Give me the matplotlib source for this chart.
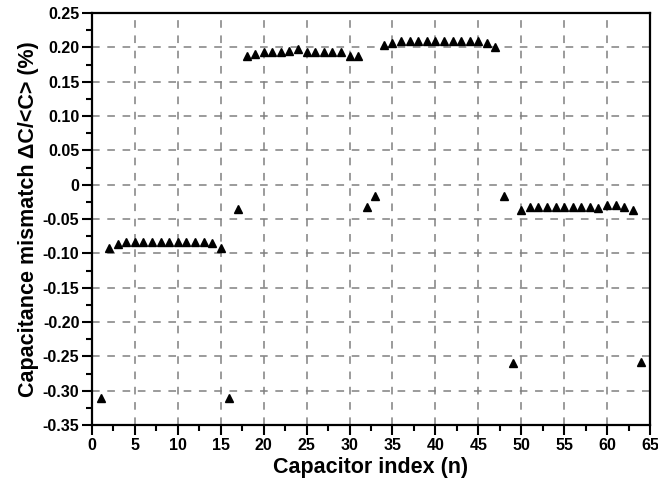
import matplotlib
matplotlib.use('Agg')
import matplotlib.pyplot as plt
from matplotlib.ticker import MultipleLocator

plt.rcParams['font.family'] = ['Liberation Sans', 'DejaVu Sans']
plt.rcParams['font.weight'] = 'bold'

index = list(range(1, 65))
mismatch = [
    -0.310, -0.092, -0.086, -0.083, -0.083, -0.083, -0.083, -0.083,
    -0.083, -0.083, -0.083, -0.083, -0.083, -0.085, -0.092, -0.310,
    -0.035, 0.188, 0.190, 0.193, 0.194, 0.193, 0.195, 0.197,
    0.193, 0.194, 0.194, 0.194, 0.194, 0.188, 0.188, -0.033,
    -0.017, 0.204, 0.206, 0.210, 0.209, 0.209, 0.209, 0.209,
    0.209, 0.209, 0.209, 0.209, 0.209, 0.206, 0.200, -0.017,
    -0.260, -0.037, -0.032, -0.032, -0.032, -0.032, -0.032, -0.032,
    -0.032, -0.032, -0.034, -0.030, -0.030, -0.033, -0.037, -0.258,
]

fig = plt.figure(figsize=(6.58, 4.91), dpi=100)
ax = fig.add_axes([0.1398, 0.1344, 0.848, 0.839])

ax.plot(index, mismatch, '^', color='black', markersize=5.5, linestyle='none', zorder=3)

ax.set_xlim(0, 65)
ax.set_ylim(-0.35, 0.25)
ax.xaxis.set_major_locator(MultipleLocator(5))
ax.xaxis.set_minor_locator(MultipleLocator(2.5))
ax.yaxis.set_minor_locator(MultipleLocator(0.025))

yticks = [-0.35, -0.30, -0.25, -0.20, -0.15, -0.10, -0.05, 0, 0.05, 0.10, 0.15, 0.20, 0.25]
ax.set_yticks(yticks)
ax.set_yticklabels(['0' if v == 0 else f'{v:.2f}' for v in yticks])

ax.grid(True, which='major', color='#808080', linestyle=(0, (5, 5)), linewidth=1.1)
ax.tick_params(which='major', direction='out', length=7, width=1.5, labelsize=11.5, pad=2)
ax.tick_params(which='minor', direction='out', length=4, width=1.5)
ax.tick_params(top=False, right=False)
for s in ax.spines.values():
    s.set_linewidth(1.6)

ax.set_xlabel('Capacitor index (n)', fontsize=15.5, fontweight='bold', labelpad=3)
ax.set_ylabel('Capacitance mismatch \u0394C/<C> (%)', fontsize=15.5, fontweight='bold', labelpad=3)

fig.savefig('out.png', dpi=100)
